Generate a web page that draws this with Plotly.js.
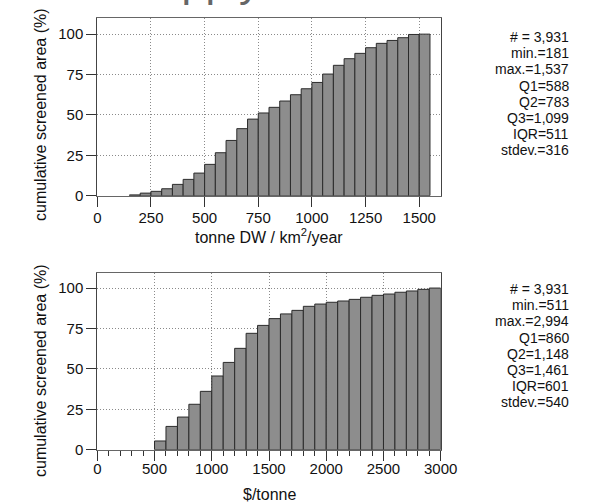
<!DOCTYPE html>
<html>
<head>
<meta charset="utf-8">
<script src="https://cdn.plot.ly/plotly-3.0.1.min.js"></script>
<style>html,body{margin:0;padding:0;background:#fff;}#chart{width:597px;height:503px;}</style>
</head>
<body>
<div id="chart"></div>
<script>
// Top panel: productivity (tonne DW / km2 / year), bins of 50
var prodBinStart = [150,200,250,300,350,400,450,500,550,600,650,700,750,800,850,900,950,1000,1050,1100,1150,1200,1250,1300,1350,1400,1450,1500];
var prodCumPct   = [0.5,1.6,2.7,4.3,7.0,10.1,14.0,19.4,26.6,34.2,41.5,47.4,51.2,54.7,58.6,62.5,66.2,70.1,75.3,80.7,84.8,88.1,91.6,94.3,96.1,97.8,99.8,100];
var prodBinWidth = 50;

// Bottom panel: cost ($/tonne), bins of 100
var costBinStart = [500,600,700,800,900,1000,1100,1200,1300,1400,1500,1600,1700,1800,1900,2000,2100,2200,2300,2400,2500,2600,2700,2800,2900];
var costCumPct   = [5.4,14.4,20.2,28.1,36.1,45.6,54.0,62.7,72.0,76.9,81.1,84.0,86.2,88.7,90.1,91.2,92.0,93.0,94.3,95.5,96.3,97.4,98.2,99.2,100];
var costBinWidth = 100;

var prodStats = ["# = 3,931","min.=181","max.=1,537","Q1=588","Q2=783","Q3=1,099","IQR=511","stdev.=316"];
var costStats = ["# = 3,931","min.=511","max.=2,994","Q1=860","Q2=1,148","Q3=1,461","IQR=601","stdev.=540"];

var yTicks = [0,25,50,75,100];
var prodTicks = [0,250,500,750,1000,1250,1500];
var costTicks = [0,500,1000,1500,2000,2500,3000];

var W = 597, H = 503;
var FONT = "Liberation Sans, Arial, Helvetica, sans-serif";
function px(x){return x/W;}
function py(y){return 1 - y/H;}

var barStyle = {color:'#8d8d8d', line:{color:'#2b2b2b', width:1}};

var traces = [
  {type:'bar', x:prodBinStart.map(function(s){return s+prodBinWidth/2;}), y:prodCumPct,
   width:prodBinWidth, marker:barStyle, xaxis:'x', yaxis:'y', hoverinfo:'x+y'},
  {type:'bar', x:costBinStart.map(function(s){return s+costBinWidth/2;}), y:costCumPct,
   width:costBinWidth, marker:barStyle, xaxis:'x2', yaxis:'y2', hoverinfo:'x+y'}
];

function xAxis(range, ticks, domain, anchor, standoff){
  return {domain:domain, range:range, anchor:anchor, tickvals:ticks, ticktext:ticks.map(String),
    ticks:'outside', ticklen:10, tickwidth:1, tickcolor:'#333', ticklabelstandoff:standoff,
    showline:true, linecolor:'#666', linewidth:1, mirror:true,
    showgrid:true, gridcolor:'#8a8a8a', griddash:'1px,2px', gridwidth:1,
    zeroline:false, tickfont:{family:FONT, size:15, color:'#111'}, fixedrange:true};
}
function yAxis(range, domain, anchor){
  return {domain:domain, range:range, anchor:anchor, tickvals:yTicks, ticktext:yTicks.map(String),
    ticks:'outside', ticklen:10, tickwidth:1, tickcolor:'#333',
    showline:true, linecolor:'#444', linewidth:1, mirror:true,
    showgrid:true, gridcolor:'#8a8a8a', griddash:'1px,2px', gridwidth:1,
    zeroline:false, tickfont:{family:FONT, size:15, color:'#111'}, fixedrange:true};
}

var xd = [px(97.3), px(440.7)];
var layout = {
  width:W, height:H, margin:{l:0,r:0,t:0,b:0},
  paper_bgcolor:'#fff', plot_bgcolor:'#fff', showlegend:false, bargap:0,
  font:{family:FONT, color:'#111'},
  xaxis: xAxis([0,1600], prodTicks, xd, 'y', -2),
  yaxis: yAxis([0,110.3], [py(195.7), py(17.5)], 'x'),
  xaxis2: xAxis([0,3000], costTicks, xd, 'y2', -5),
  yaxis2: yAxis([0,109.5], [py(449.7), py(272.7)], 'x2'),
  annotations: []
};
layout.xaxis2.minor = {dtick:100, ticks:'outside', ticklen:5, tickcolor:'#333', showgrid:false};

var ann = layout.annotations;
function addText(t, x, y, size, opts){
  var a = {text:t, x:px(x), y:py(y), xref:'paper', yref:'paper', showarrow:false,
    font:{family:FONT, size:size, color:'#111'}, xanchor:'center', yanchor:'middle'};
  for (var k in (opts||{})) a[k]=opts[k];
  ann.push(a);
}
// partially visible title (cut by the top edge, as in the reference)
addText('Supply', 127, 7, 43, {xanchor:'left', yanchor:'bottom', font:{family:FONT, size:43, color:'#666'}});
// axis titles
addText('tonne DW / km<sup>2</sup>/year', 269, 236, 16);
addText('$/tonne', 269, 494, 16);
addText('cumulative screened area (%)', 40, 115, 16, {textangle:-90});
addText('cumulative screened area (%)', 40, 371, 16, {textangle:-90});
// stats
var step = 16.2;
prodStats.forEach(function(s,i){ addText(s, 571, 37 + i*step, 14, {xanchor:'right'}); });
costStats.forEach(function(s,i){ addText(s, 571, 289 + i*step, 14, {xanchor:'right'}); });

Plotly.newPlot('chart', traces, layout, {displayModeBar:false, staticPlot:true});
</script>
</body>
</html>
